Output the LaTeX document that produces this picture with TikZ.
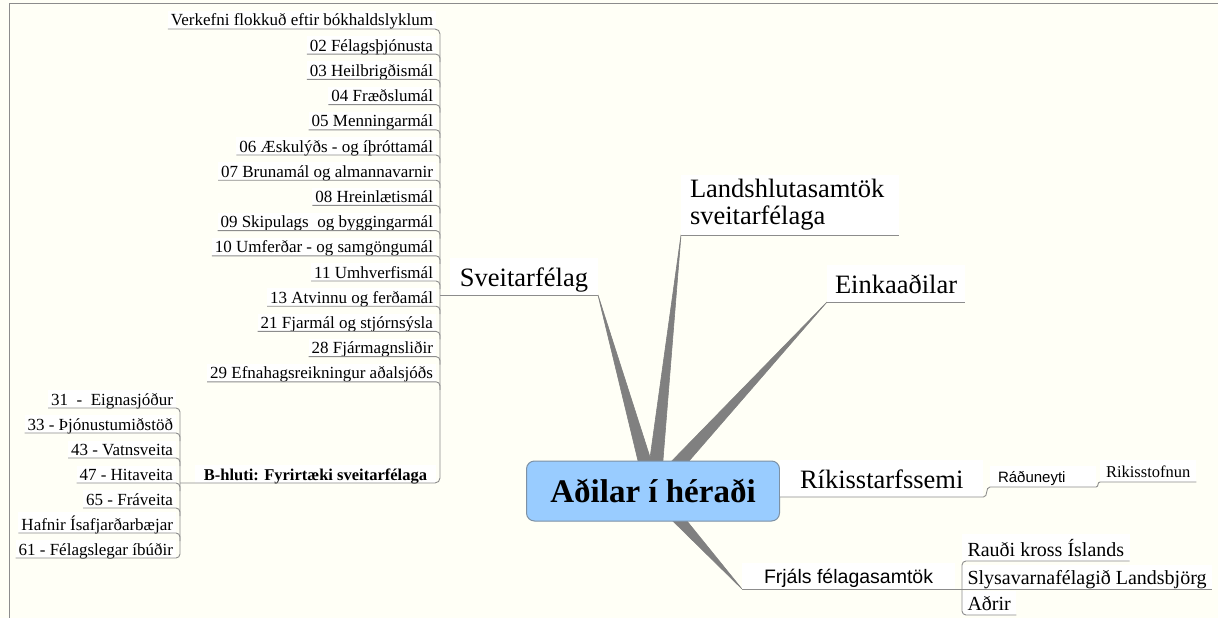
\documentclass[tikz,border=0pt]{standalone}
\usepackage{fontspec}
\setmainfont{Liberation Serif}
\newfontfamily\arialfont{Liberation Sans}
\usetikzlibrary{positioning,calc}
\definecolor{bgcream}{RGB}{255,255,246}
\definecolor{linegray}{RGB}{140,140,140}
\definecolor{spokegray}{RGB}{128,128,128}
\definecolor{hubblue}{RGB}{153,204,255}
\definecolor{hubedge}{RGB}{125,145,165}
\pgfdeclarelayer{bg}
\pgfsetlayers{bg,main}

\tikzset{
  leaf/.style={font=\fontsize{17}{20}\selectfont, fill=white, inner xsep=3pt, inner ysep=3pt, text depth=0pt, outer sep=0pt},
  topic/.style={font=\fontsize{26.5}{27}\selectfont, fill=white, inner ysep=9pt, text depth=0pt, outer sep=0pt},
  small/.style={fill=white, inner ysep=5pt, text depth=0pt, outer sep=0pt},
  hub/.style={font=\bfseries\fontsize{33}{36}\selectfont, fill=hubblue, draw=hubedge, line width=1pt, rounded corners=8pt, minimum width=253pt, minimum height=60pt, inner sep=0pt},
  uline/.style={draw=linegray, line width=0.9pt},
  spoke/.style={fill=spokegray, draw=spokegray, line width=0.6pt, line join=round},
}

\begin{document}
\begin{tikzpicture}[x=1pt,y=-1pt]
  \useasboundingbox (0,0) rectangle (1218,618);
  \begin{pgfonlayer}{bg}
    \fill[bgcream] (0,0) rectangle (1218,618);
  \end{pgfonlayer}
  \draw[linegray, line width=1.5pt] (1218,3.5) -- (9.5,3.5) -- (9.5,618);

  \node[hub] (hub) at (653,491) {Aðilar í héraði};

  % main topics
  \node[topic, anchor=south east, inner xsep=10pt] (sv) at (598,295) {Sveitarfélag};
  \node[topic, anchor=south west, inner xsep=9pt, inner ysep=4.5pt, text depth=, text width=200pt, align=left] (ls) at (681,235) {Landshlutasamtök\\sveitarfélaga};
  \node[topic, anchor=south west, inner xsep=8pt] (ei) at (827,302) {Einkaaðilar};
  \node[topic, anchor=south west, inner xsep=20pt] (rk) at (780,497) {Ríkisstarfssemi};
  \node[small, anchor=south west, font=\arialfont\fontsize{19.5}{22}\selectfont, inner xsep=22pt, inner ysep=6pt] (fr) at (742,589) {Frjáls félagasamtök};
  \draw[uline] (ls.south west) -- (ls.south east);
  \draw[uline] (ei.south west) -- (ei.south east);

  % state
  \node[small, anchor=south west, font=\arialfont\fontsize{15}{17}\selectfont, inner xsep=8pt, text width=90pt, align=left] (rd) at (990,487) {Ráðuneyti};
  \node[small, anchor=south west, font=\fontsize{16.5}{18}\selectfont, inner xsep=6pt] (ro) at (1100,482) {Rikisstofnun};
  \draw[uline] (rk.south west) -- (rk.south east) .. controls +(5,0) and +(-5,0) .. (rd.south west) -- (rd.south east) .. controls +(3,0) and +(-3,0) .. (ro.south west) -- (ro.south east);

  % associations
  \node[small, anchor=south west, font=\fontsize{20}{22}\selectfont, inner xsep=5.5pt] (rc) at (962,561) {Rauði kross Íslands};
  \node[small, anchor=south west, font=\fontsize{20}{22}\selectfont, inner xsep=5.5pt] (sl) at (962,589) {Slysavarnafélagið Landsbjörg};
  \node[small, anchor=south west, font=\fontsize{20}{22}\selectfont, inner xsep=5.5pt] (ad) at (962,615) {Aðrir};
  \draw[uline, rounded corners=4pt] (rc.south east) -- (rc.south west) -- (ad.south west) -- (ad.south east);
  \draw[uline] (fr.south west) -- (sl.south east);

  % sveitarfelag: bookkeeping keys
  \coordinate (barx) at (440,0);
  \coordinate (bbar) at (180,0);
  \foreach \t [count=\i from 0] in {Verkefni flokkuð eftir bókhaldslyklum, 02 Félagsþjónusta, 03 Heilbrigðismál, 04 Fræðslumál, 05 Menningarmál, 06 Æskulýðs - og íþróttamál, 07 Brunamál og almannavarnir, 08 Hreinlætismál, 09 Skipulags\ \ og byggingarmál, 10 Umferðar - og samgöngumál, 11 Umhverfismál, 13 Atvinnu og ferðamál, 21 Fjarmál og stjórnsýsla, 28 Fjármagnsliðir, 29 Efnahagsreikningur aðalsjóðs}
    \node[leaf, anchor=south east] (s\i) at (436,{29+25.2*\i}) {\t};
  \node[leaf, anchor=south east, inner xsep=9pt, font=\bfseries\fontsize{16.5}{20}\selectfont] (bh) at (436,483) {B-hluti: Fyrirtæki sveitarfélaga};
  \draw[uline, rounded corners=5pt] (s0.south west) -- (s0.south east -| barx) -- (bh.south east -| barx) -- (bh.south west -| bbar);
  \foreach \i in {1,...,14}
    \draw[uline, rounded corners=4pt] (s\i.south west) -- (s\i.south east -| barx) -- ++(0,8);
  \draw[uline] (sv.south east) -- (sv.south east -| barx);

  % B-hluti
  \foreach \t [count=\i from 0] in {31\ \ -\ \ Eignasjóður, 33 - Þjónustumiðstöð, 43 - Vatnsveita, 47 - Hitaveita, 65 - Fráveita, Hafnir Ísafjarðarbæjar, 61 - Félagslegar íbúðir}
    \node[leaf, anchor=south east] (b\i) at (176,{408+25*\i}) {\t};
  \draw[uline, rounded corners=4pt] (b0.south west) -- (b0.south east -| bbar) -- (b6.south east -| bbar) -- (b6.south west);
  \foreach \i in {1,...,5}
    \draw[uline, rounded corners=4pt] (b\i.south west) -- (b\i.south east -| bbar) -- ++(0,8);

  % tapered spokes
  \begin{pgfonlayer}{bg}
    \foreach \n in {sv.south east, ls.south west, ei.south west, fr.south west}
      \filldraw[spoke] (\n) -- ($(hub.center)!7.5pt!90:(\n)$) -- ($(hub.center)!7.5pt!-90:(\n)$) -- cycle;
  \end{pgfonlayer}
\end{tikzpicture}
\end{document}
